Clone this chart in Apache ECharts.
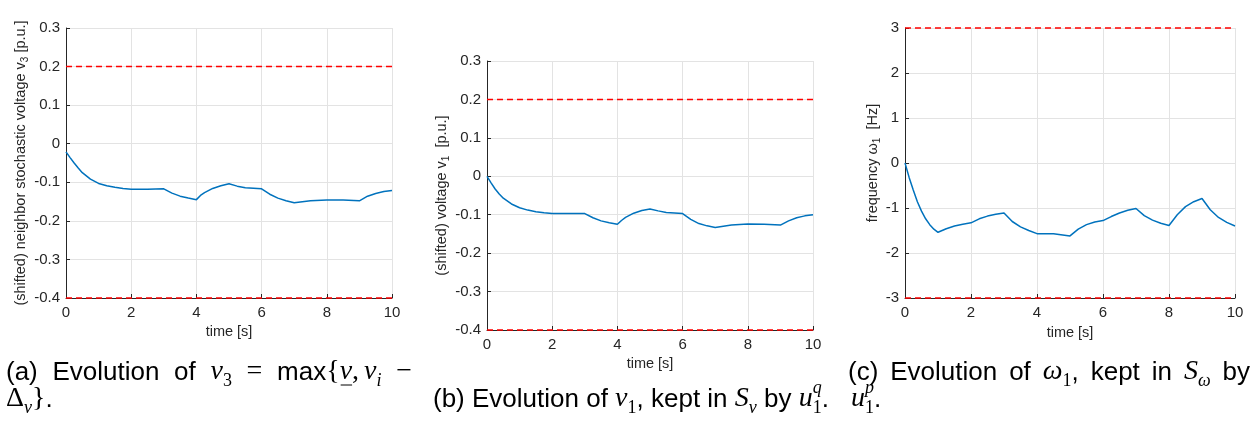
<!DOCTYPE html>
<html>
<head>
<meta charset="utf-8">
<script src="https://cdn.jsdelivr.net/npm/echarts@6/dist/echarts.min.js"></script>
<style>
html,body{margin:0;padding:0;background:#fff;}
#c{width:1260px;height:422px;}
</style>
</head>
<body>
<div id="c"></div>
<script>
// ---------------- DATA ----------------
const tA = [0,0.125,0.25,0.375,0.5,0.75,1,1.25,1.5,1.75,2,2.5,3,3.25,3.5,3.75,4,4.125,4.25,4.5,4.75,5,5.25,5.5,6,6.25,6.5,6.75,7,7.5,8,8.5,9,9.25,9.5,9.75,10];
const v3 = [-0.021,-0.036,-0.050,-0.063,-0.075,-0.092,-0.103,-0.109,-0.113,-0.116,-0.118,-0.118,-0.117,-0.128,-0.136,-0.141,-0.145,-0.134,-0.127,-0.116,-0.109,-0.104,-0.110,-0.114,-0.117,-0.131,-0.141,-0.148,-0.153,-0.148,-0.146,-0.146,-0.148,-0.136,-0.129,-0.124,-0.121];

const tB = [0,0.125,0.25,0.375,0.5,0.75,1,1.25,1.5,1.75,2,2.5,3,3.25,3.5,3.75,4,4.125,4.25,4.5,4.75,5,5.25,5.5,6,6.25,6.5,6.75,7,7.5,8,8.5,9,9.25,9.5,9.75,10];
const v1 = [0,-0.017,-0.033,-0.046,-0.057,-0.072,-0.082,-0.088,-0.092,-0.095,-0.097,-0.097,-0.097,-0.108,-0.116,-0.121,-0.125,-0.115,-0.107,-0.096,-0.089,-0.085,-0.090,-0.094,-0.097,-0.112,-0.123,-0.129,-0.133,-0.127,-0.124,-0.125,-0.127,-0.116,-0.108,-0.103,-0.100];

const tC = [0,0.125,0.25,0.375,0.5,0.625,0.75,0.875,1,1.25,1.5,1.75,2,2.25,2.5,2.75,3,3.25,3.5,3.75,4,4.5,5,5.25,5.5,5.75,6,6.25,6.5,6.75,7,7.25,7.5,7.75,8,8.25,8.5,8.75,9,9.25,9.5,9.75,10];
const w1 = [0,-0.32,-0.60,-0.86,-1.07,-1.24,-1.37,-1.47,-1.54,-1.46,-1.40,-1.36,-1.33,-1.24,-1.18,-1.14,-1.11,-1.30,-1.42,-1.50,-1.57,-1.57,-1.62,-1.47,-1.37,-1.31,-1.28,-1.19,-1.11,-1.05,-1.01,-1.17,-1.27,-1.34,-1.39,-1.15,-0.97,-0.86,-0.79,-1.04,-1.21,-1.32,-1.40];

const vLimits = [0.2, -0.4];
const wLimits = [3, -3];
const xTicks = [0, 10, 2];          // min, max, interval
const vTicks = [-0.4, 0.3, 0.1];
const wTicks = [-3, 3, 1];

// ---------------- CHART ----------------
const SANS = '"Liberation Sans", Arial, Helvetica, sans-serif';
const SERIF = '"Liberation Serif", "DejaVu Serif", serif';
const TXT = '#262626';
const BLUE = '#0072BD';

const grids = [
  {left: 66, top: 28, width: 326, height: 270},
  {left: 487, top: 61, width: 326, height: 269},
  {left: 905, top: 28, width: 330, height: 270}
];

function zip(xs, ys) { return xs.map((x, i) => [x, ys[i]]); }

const nameRich = {
  a: {fontFamily: SANS, fontSize: 14.5, color: TXT, lineHeight: 18},
  s: {fontFamily: SANS, fontSize: 10, color: TXT, lineHeight: 11, verticalAlign: 'bottom'}
};

function xAxis(i, nameGap) {
  return {
    type: 'value', gridIndex: i, min: xTicks[0], max: xTicks[1], interval: xTicks[2],
    name: 'time [s]', nameLocation: 'middle', nameGap: nameGap,
    nameTextStyle: {fontFamily: SANS, fontSize: 14.5, color: TXT},
    axisLine: {show: true, onZero: false, lineStyle: {color: TXT, width: 1}},
    axisTick: {show: true, inside: true, length: 4, lineStyle: {color: TXT}},
    axisLabel: {fontFamily: SANS, fontSize: 15, color: TXT, margin: 7},
    splitLine: {show: true, lineStyle: {color: '#e3e3e3', width: 1}}
  };
}
function yAxis(i, ticks, name, nameGap, fmt) {
  return {
    type: 'value', gridIndex: i, min: ticks[0], max: ticks[1], interval: ticks[2],
    name: name, nameLocation: 'middle', nameGap: nameGap, nameRotate: 90,
    nameTextStyle: {rich: nameRich},
    axisLine: {show: true, onZero: false, lineStyle: {color: TXT, width: 1}},
    axisTick: {show: true, inside: true, length: 4, lineStyle: {color: TXT}},
    axisLabel: {fontFamily: SANS, fontSize: 15, color: TXT, margin: 6, formatter: fmt},
    splitLine: {show: true, lineStyle: {color: '#e3e3e3', width: 1}}
  };
}
const fmtV = v => { const r = Math.round(v * 10) / 10; return r === 0 ? '0' : String(r); };
const fmtW = v => String(Math.round(v));

function curve(i, xs, ys) {
  return {type: 'line', xAxisIndex: i, yAxisIndex: i, data: zip(xs, ys), showSymbol: false,
    symbol: 'none', lineStyle: {color: BLUE, width: 1.5}, z: 3, animation: false};
}
function limit(i, val) {
  return {type: 'line', xAxisIndex: i, yAxisIndex: i, data: [[xTicks[0], val], [xTicks[1], val]],
    showSymbol: false, symbol: 'none', clip: false,
    lineStyle: {color: '#ff0000', width: 1.5, type: [6, 4]}, z: 4, animation: false};
}

// ------------- captions (math-style rich text) -------------
const ST = {
  t:   {font: `26px ${SANS}`, size: 26, dy: 0},
  m:   {font: `italic 28px ${SERIF}`, size: 28, dy: 0},
  n:   {font: `28px ${SERIF}`, size: 28, dy: 0},
  sb:  {font: `18px ${SERIF}`, size: 18, dy: 6},
  si:  {font: `italic 18px ${SERIF}`, size: 18, dy: 6},
  sup: {font: `italic 18px ${SERIF}`, size: 18, dy: -14}
};
const captionLines = [
  {x: 6, base: 381, right: 412, segs: [
    ['(a)','t'],[' ','sp'],['Evolution','t'],[' ','sp'],['of','t'],[' ','sp'],['v','m'],['3','sb'],[' ','sp'],
    ['=','n'],[' ','sp'],['max','t'],['{','n'],['v','m','ul'],[',','n'],[' ','thin'],['v','m'],['i','si'],[' ','sp'],['\u2212','n']]},
  {x: 6, base: 408, segs: [['\u0394','n'],['v','si'],['}','n'],['.','t']]},
  {x: 433, base: 408, segs: [
    ['(b)','t'],[' ','sp'],['Evolution','t'],[' ','sp'],['of','t'],[' ','sp'],['v','m'],['1','sb'],[',','t'],[' ','sp'],
    ['kept','t'],[' ','sp'],['in','t'],[' ','sp'],['S','m'],['v','si'],[' ','sp'],['by','t'],[' ','sp'],
    ['u','m'],['q','sup','stack'],['1','sb'],['.','t']]},
  {x: 848, base: 381, right: 1250, segs: [
    ['(c)','t'],[' ','sp'],['Evolution','t'],[' ','sp'],['of','t'],[' ','sp'],['\u03c9','m'],['1','sb'],[',','t'],[' ','sp'],
    ['kept','t'],[' ','sp'],['in','t'],[' ','sp'],['S','m'],['\u03c9','si'],[' ','sp'],['by','t']]},
  {x: 851, base: 408, segs: [['u','m'],['p','sup','stack'],['1','sb'],['.','t']]}
];

const mctx = document.createElement('canvas').getContext('2d');
function measure(font, s) { mctx.font = font; return mctx.measureText(s).width; }

function buildCaptions() {
  const els = [];
  captionLines.forEach(line => {
    const spW = measure(ST.t.font, ' ');
    let natural = 0, nsp = 0;
    const widths = line.segs.map(s => {
      let w;
      if (s[1] === 'sp') { w = spW; nsp++; }
      else if (s[1] === 'thin') w = 5;
      else if (s[2] === 'stack') w = 0;
      else w = measure(ST[s[1]].font, s[0]);
      natural += w;
      return w;
    });
    const extra = (line.right && nsp) ? (line.right - line.x - natural) / nsp : 0;
    let x = line.x;
    line.segs.forEach((s, k) => {
      if (s[1] === 'sp') { x += spW + extra; return; }
      if (s[1] === 'thin') { x += 5; return; }
      const st = ST[s[1]];
      els.push({type: 'text', x: x, y: line.base + st.dy - 0.33 * st.size, silent: true,
        style: {text: s[0], font: st.font, fill: '#000', align: 'left', verticalAlign: 'middle'}});
      if (s[2] === 'ul') {
        els.push({type: 'line', silent: true, shape: {x1: x + 1, y1: line.base + 4, x2: x + widths[k], y2: line.base + 4},
          style: {stroke: '#000', lineWidth: 1}});
      }
      x += widths[k];
    });
  });
  return els;
}

const chart = echarts.init(document.getElementById('c'), null, {renderer: 'canvas'});
chart.setOption({
  animation: false,
  backgroundColor: '#fff',
  grid: grids,
  xAxis: [xAxis(0, 25), xAxis(1, 23), xAxis(2, 27)],
  yAxis: [
    yAxis(0, vTicks, '{a|(shifted) neighbor stochastic voltage v}{s|3}{a| [p.u.]}', 34, fmtV),
    yAxis(1, vTicks, '{a|(shifted) voltage v}{s|1}{a|  [p.u.]}', 34, fmtV),
    yAxis(2, wTicks, '{a|frequency \u03c9}{s|1}{a|  [Hz]}', 23, fmtW)
  ],
  series: [
    limit(0, vLimits[0]), limit(0, vLimits[1]), curve(0, tA, v3),
    limit(1, vLimits[0]), limit(1, vLimits[1]), curve(1, tB, v1),
    limit(2, wLimits[0]), limit(2, wLimits[1]), curve(2, tC, w1)
  ],
  graphic: buildCaptions()
});
</script>
</body>
</html>
